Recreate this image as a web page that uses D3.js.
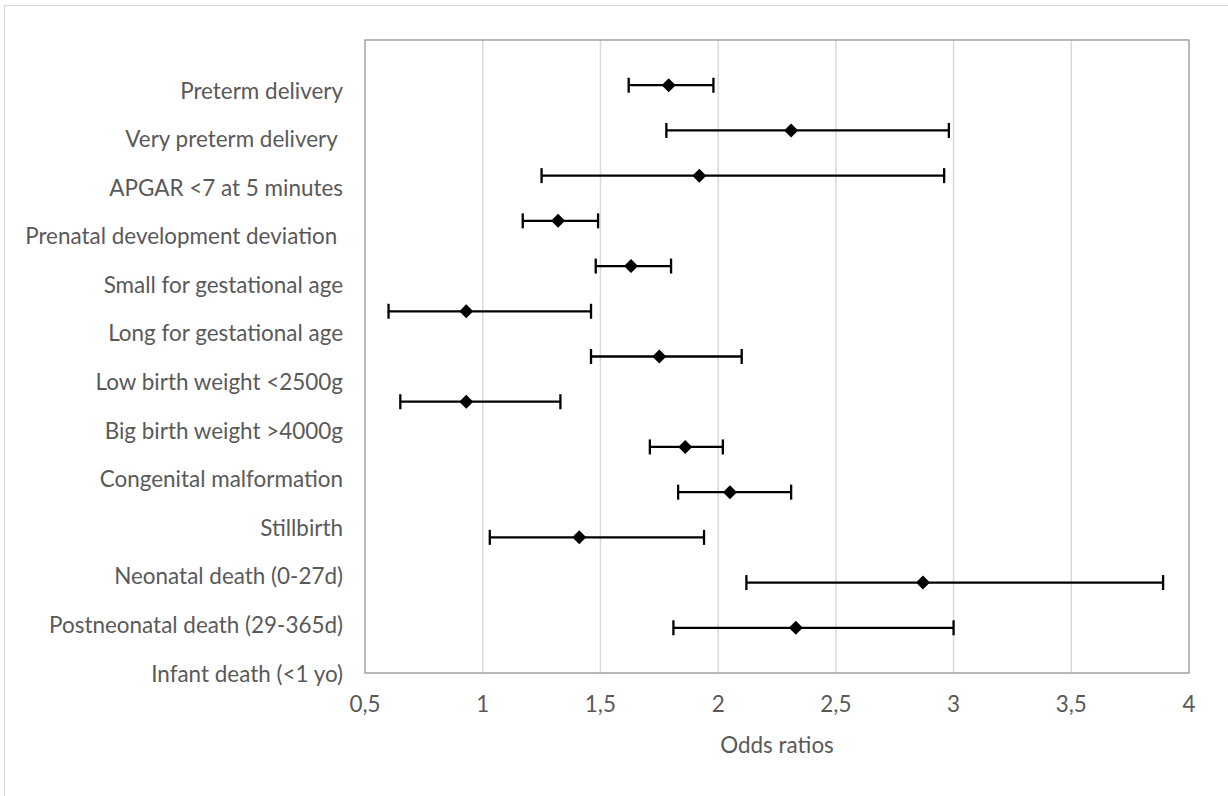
<!DOCTYPE html>
<html>
<head>
<meta charset="utf-8">
<script src="https://cdn.jsdelivr.net/npm/d3@7"></script>
<style>
  html, body { margin: 0; padding: 0; background: #fff; }
  svg { display: block; }
  text { font-family: Lato, "Open Sans", sans-serif; fill: #595959; }
</style>
</head>
<body>
<svg id="chart" width="1228" height="796"></svg>
<script>
// ---- data ----
const categories = [
  "Preterm delivery",
  "Very preterm delivery ",
  "APGAR <7 at 5 minutes",
  "Prenatal development deviation ",
  "Small for gestational age",
  "Long for gestational age",
  "Low birth weight <2500g",
  "Big birth weight >4000g",
  "Congenital malformation",
  "Stillbirth",
  "Neonatal death (0-27d)",
  "Postneonatal death (29-365d)",
  "Infant death (<1 yo)"
];
const oddsRatios = [1.79, 2.31, 1.92, 1.32, 1.63, 0.93, 1.75, 0.93, 1.86, 2.05, 1.41, 2.87, 2.33];
const ciLower    = [1.62, 1.78, 1.25, 1.17, 1.48, 0.60, 1.46, 0.65, 1.71, 1.83, 1.03, 2.12, 1.81];
const ciUpper    = [1.98, 2.98, 2.96, 1.49, 1.80, 1.46, 2.10, 1.33, 2.02, 2.31, 1.94, 3.89, 3.00];
const xTicks     = [0.5, 1, 1.5, 2, 2.5, 3, 3.5, 4];
const xTickLabels = ["0,5", "1", "1,5", "2", "2,5", "3", "3,5", "4"];
const xTitle = "Odds ratios";

// ---- layout ----
const svg = d3.select("#chart");
const plot = { left: 365, right: 1189, top: 40, bottom: 673 };

const x = d3.scaleLinear().domain([0.5, 4]).range([plot.left, plot.right]);
// points placed on a hidden numeric axis 0..14, first row at 13
const y = d3.scaleLinear().domain([0, 14]).range([plot.bottom, plot.top]);
const labelY = d3.scalePoint().domain(categories).range([98.5, 681.5]);

// font size to approximate original Calibri widths
const probe = svg.append("text").attr("font-size", 100).text("Preterm delivery");
const w100 = probe.node().getComputedTextLength();
probe.remove();
const fs = Math.min(24, 100 * 163 / w100);

// outer chart border
svg.append("rect")
  .attr("x", 4.5).attr("y", 5.5)
  .attr("width", 1400).attr("height", 1000)
  .attr("fill", "none").attr("stroke", "#d9d9d9").attr("stroke-width", 1.2);

// gridlines
svg.append("g").selectAll("line")
  .data(xTicks.filter(d => d > 0.5 && d < 4))
  .join("line")
  .attr("x1", d => x(d)).attr("x2", d => x(d))
  .attr("y1", plot.top).attr("y2", plot.bottom)
  .attr("stroke", "#d9d9d9").attr("stroke-width", 1.5);

// plot border
svg.append("rect")
  .attr("x", plot.left).attr("y", plot.top)
  .attr("width", plot.right - plot.left).attr("height", plot.bottom - plot.top)
  .attr("fill", "none").attr("stroke", "#8c8c8c").attr("stroke-width", 1.2);

// x axis tick labels
svg.append("g").selectAll("text")
  .data(xTicks)
  .join("text")
  .attr("x", d => x(d))
  .attr("y", 712)
  .attr("text-anchor", "middle")
  .attr("font-size", fs)
  .text((d, i) => xTickLabels[i]);

// x axis title
svg.append("text")
  .attr("x", (plot.left + plot.right) / 2)
  .attr("y", 753)
  .attr("text-anchor", "middle")
  .attr("font-size", fs)
  .text(xTitle);

// category labels
svg.append("g").selectAll("text")
  .data(categories)
  .join("text")
  .attr("x", 343)
  .attr("y", d => labelY(d))
  .attr("text-anchor", "end")
  .attr("font-size", fs)
  .style("white-space", "pre")
  .text(d => d);

// error bars + points
const rows = oddsRatios.map((v, i) => ({ v, lo: ciLower[i], hi: ciUpper[i], pos: 13 - i }));
const g = svg.append("g");
const capH = 7.5;
g.selectAll("line.ci")
  .data(rows).join("line").attr("class", "ci")
  .attr("x1", d => x(d.lo)).attr("x2", d => x(d.hi))
  .attr("y1", d => y(d.pos)).attr("y2", d => y(d.pos))
  .attr("stroke", "#000").attr("stroke-width", 2.3);
g.selectAll("line.capL")
  .data(rows).join("line").attr("class", "capL")
  .attr("x1", d => x(d.lo)).attr("x2", d => x(d.lo))
  .attr("y1", d => y(d.pos) - capH).attr("y2", d => y(d.pos) + capH)
  .attr("stroke", "#000").attr("stroke-width", 2.3);
g.selectAll("line.capR")
  .data(rows).join("line").attr("class", "capR")
  .attr("x1", d => x(d.hi)).attr("x2", d => x(d.hi))
  .attr("y1", d => y(d.pos) - capH).attr("y2", d => y(d.pos) + capH)
  .attr("stroke", "#000").attr("stroke-width", 2.3);
const diamond = d3.symbol().type(d3.symbolSquare).size(98);
g.selectAll("path.pt")
  .data(rows).join("path").attr("class", "pt")
  .attr("d", diamond)
  .attr("transform", d => `translate(${x(d.v)},${y(d.pos)}) rotate(45)`)
  .attr("fill", "#000");
</script>
</body>
</html>
